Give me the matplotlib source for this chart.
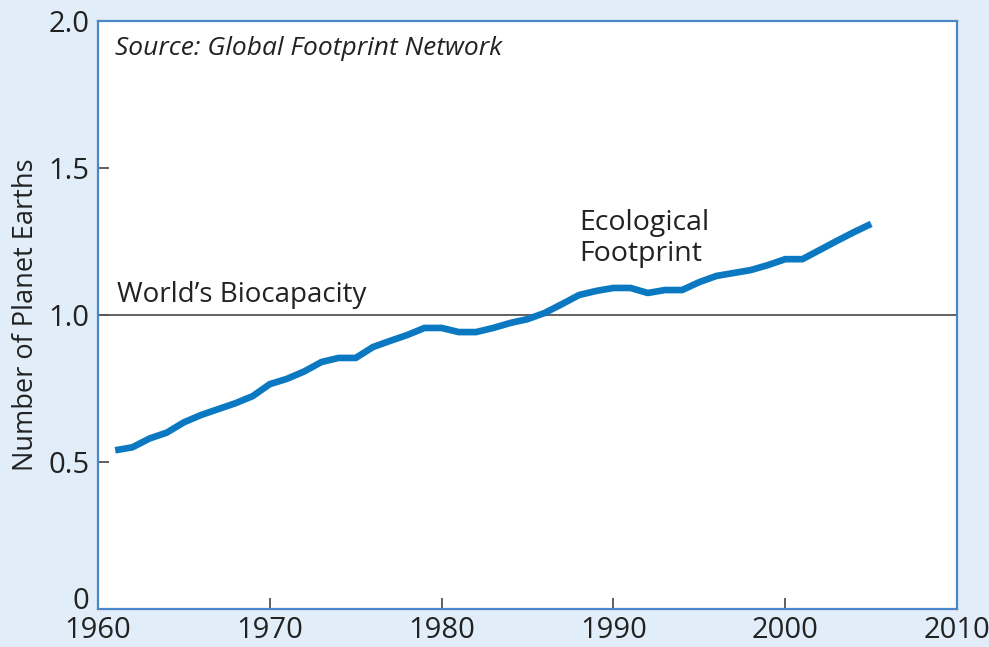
import matplotlib
matplotlib.use("Agg")
import matplotlib.pyplot as plt
import matplotlib.transforms as mtransforms

years = list(range(1961, 2006))
footprint = [
    0.54, 0.55, 0.58, 0.60, 0.635, 0.66, 0.68, 0.70, 0.724, 0.765,
    0.783, 0.808, 0.84, 0.854, 0.854, 0.891, 0.912, 0.932, 0.956, 0.956,
    0.942, 0.942, 0.956, 0.973, 0.986, 1.007, 1.037, 1.068, 1.082, 1.092,
    1.092, 1.075, 1.085, 1.085, 1.112, 1.133, 1.143, 1.153, 1.170, 1.190,
    1.190, 1.221, 1.252, 1.282, 1.31,
]
biocapacity = 1.0
x_ticks = [1960, 1970, 1980, 1990, 2000, 2010]
y_ticks = [0, 0.5, 1.0, 1.5, 2.0]
y_labels = ["0", "0.5", "1.0", "1.5", "2.0"]

plt.rcParams["font.family"] = ["Open Sans", "DejaVu Sans"]

bg = "#e1edf8"
spine_col = "#4a86c8"
line_col = "#0a79c1"
txt = "#222222"

fig = plt.figure(figsize=(9.89, 6.47), dpi=100, facecolor=bg)
ax = fig.add_axes([0.0991, 0.0587, 0.8686, 0.9088])
ax.set_facecolor("white")

ax.axhline(biocapacity, color="#555555", lw=1.3, zorder=2)
ax.plot(years, footprint, color=line_col, lw=4.8, solid_capstyle="butt",
        solid_joinstyle="round", zorder=3)

ax.set_xlim(1960, 2010)
ax.set_ylim(0, 2.0)
ax.set_xticks(x_ticks)
ax.set_yticks(y_ticks)
ax.set_yticklabels(y_labels)
ax.tick_params(direction="in", length=8, width=1.2, color="#444444",
               labelsize=21, labelcolor=txt)
ax.tick_params(axis="x", pad=5)
ax.tick_params(axis="y", pad=6)
for s in ax.spines.values():
    s.set_color(spine_col)
    s.set_linewidth(1.6)

# lift the "0" label a bit so it clears "1960", as in the original
zero = ax.get_yticklabels()[0]
zero.set_transform(zero.get_transform() +
                   mtransforms.ScaledTranslation(0, 8 / 72, fig.dpi_scale_trans))

ax.set_ylabel("Number of Planet Earths", fontsize=19.5, color=txt, labelpad=6)

ax.text(1961.0, 1.905, "Source: Global Footprint Network", style="italic",
        fontsize=19, color=txt, va="center", ha="left")
ax.text(1961.1, 1.022, "World\u2019s Biocapacity", fontsize=20,
        color=txt, va="bottom", ha="left")
ax.text(1988.0, 1.26, "Ecological\nFootprint", fontsize=20.5, color=txt,
        va="center", ha="left", linespacing=1.15)

fig.savefig("out.png", dpi=100, facecolor=bg)
